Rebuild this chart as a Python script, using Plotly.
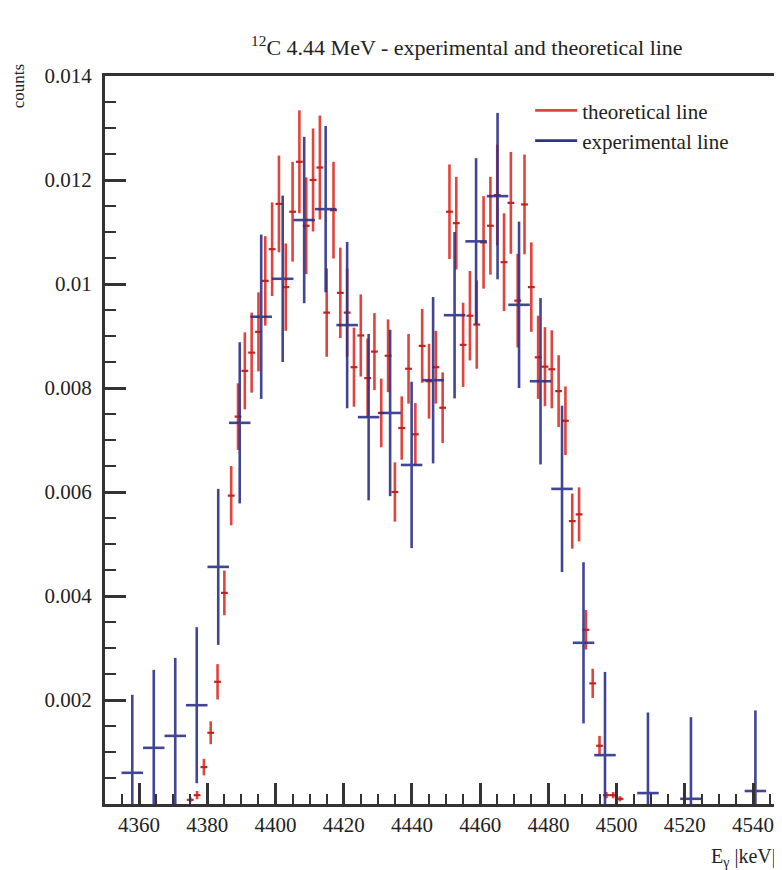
import plotly.graph_objects as go

# ---------------- data ----------------
theo_x = [4375, 4377, 4379, 4381, 4383, 4385, 4387, 4389, 4391, 4393, 4395, 4397, 4399,
          4401, 4403, 4405, 4407, 4409, 4411, 4413, 4415, 4417, 4419, 4421, 4423, 4425,
          4427, 4429, 4431, 4433, 4435, 4437, 4439, 4441, 4443, 4445, 4447, 4449, 4451,
          4453, 4455, 4457, 4459, 4461, 4463, 4465, 4467, 4469, 4471, 4473, 4475, 4477,
          4479, 4481, 4483, 4485, 4487, 4489, 4491, 4493, 4495, 4497, 4499, 4501]
theo_y = [0.00008, 0.00017, 0.00071, 0.00137, 0.00235, 0.00406, 0.00593, 0.00745, 0.00833,
          0.00868, 0.00908, 0.01006, 0.01067, 0.01154, 0.00994, 0.01139, 0.01235, 0.01112,
          0.01200, 0.01224, 0.00945, 0.01142, 0.00983, 0.00945, 0.00840, 0.00901, 0.00819,
          0.00870, 0.00752, 0.00862, 0.00600, 0.00723, 0.00837, 0.00711, 0.00881, 0.00813,
          0.00840, 0.00762, 0.01139, 0.01117, 0.00883, 0.00939, 0.00922, 0.01080, 0.01112,
          0.01171, 0.01042, 0.01156, 0.00968, 0.01153, 0.00994, 0.00859, 0.00841, 0.00836,
          0.00794, 0.00737, 0.00544, 0.00557, 0.00335, 0.00232, 0.00112, 0.00017, 0.00017,
          0.00010]
theo_err = [0.00005, 0.00008, 0.00016, 0.00022, 0.00034, 0.00043, 0.00057, 0.00064, 0.00074,
            0.00077, 0.00076, 0.00086, 0.00090, 0.00093, 0.00084, 0.00096, 0.00099, 0.00093,
            0.00099, 0.00100, 0.00085, 0.00093, 0.00087, 0.00085, 0.00076, 0.00079, 0.00076,
            0.00074, 0.00066, 0.00070, 0.00057, 0.00061, 0.00067, 0.00060, 0.00071, 0.00072,
            0.00070, 0.00068, 0.00091, 0.00089, 0.00081, 0.00086, 0.00085, 0.00089, 0.00094,
            0.00097, 0.00094, 0.00098, 0.00090, 0.00096, 0.00086, 0.00080, 0.00076, 0.00075,
            0.00069, 0.00066, 0.00053, 0.00052, 0.00038, 0.00028, 0.00019, 0.00006, 0.00006,
            0.00005]
theo_halfbin = [1.0] * len(theo_x)

exp_x = [4358.0, 4364.3, 4370.6, 4376.9, 4383.2, 4389.5, 4395.8, 4402.1, 4408.4, 4414.7,
         4421.0, 4427.3, 4433.6, 4439.9, 4446.2, 4452.5, 4458.8, 4465.1, 4471.4, 4477.7,
         4484.0, 4490.3, 4496.6, 4509.2, 4521.8, 4540.7]
exp_y = [0.00060, 0.00108, 0.00131, 0.00190, 0.00456, 0.00733, 0.00937, 0.01010, 0.01123,
         0.01144, 0.00921, 0.00744, 0.00752, 0.00652, 0.00815, 0.00940, 0.01082, 0.01169,
         0.00960, 0.00813, 0.00606, 0.00310, 0.00094, 0.00021, 0.00010, 0.00025]
exp_err = [0.00150, 0.00150, 0.00150, 0.00150, 0.00150, 0.00155, 0.00158, 0.00160, 0.00160,
           0.00160, 0.00160, 0.00160, 0.00160, 0.00160, 0.00160, 0.00160, 0.00160, 0.00160,
           0.00160, 0.00160, 0.00160, 0.00155, 0.00160, 0.00155, 0.00157, 0.00155]
exp_halfbin = [3.15] * len(exp_x)

y_tickvals = [0.002, 0.004, 0.006, 0.008, 0.010, 0.012, 0.014]
y_ticktext = ["0.002", "0.004", "0.006", "0.008", "0.01", "0.012", "0.014"]
x_tickvals = [4360, 4380, 4400, 4420, 4440, 4460, 4480, 4500, 4520, 4540]

RED = "#e2433c"
RED_DARK = "#c2231f"
BLUE = "#2c3388"
AXIS = "#333333"
FONT = "Liberation Serif"

fig = go.Figure()

fig.add_trace(go.Scatter(
    x=theo_x, y=theo_y, mode="markers", showlegend=False,
    marker=dict(size=1, color=RED_DARK, opacity=0),
    error_y=dict(type="data", array=theo_err, visible=True, width=0, thickness=2.6, color=RED),
    error_x=dict(type="data", array=theo_halfbin, visible=True, width=0, thickness=2.2, color=RED_DARK),
))

fig.add_trace(go.Scatter(
    x=exp_x, y=exp_y, mode="markers", showlegend=False, opacity=0.9,
    marker=dict(size=1, color=BLUE, opacity=0),
    error_y=dict(type="data", array=exp_err, visible=True, width=0, thickness=2.6, color=BLUE),
    error_x=dict(type="data", array=exp_halfbin, visible=True, width=0, thickness=2.6, color=BLUE),
))

# legend entries (line samples)
fig.add_trace(go.Scatter(x=[None], y=[None], mode="lines", name="theoretical line",
                         line=dict(color=RED, width=2.6)))
fig.add_trace(go.Scatter(x=[None], y=[None], mode="lines", name="experimental line",
                         line=dict(color=BLUE, width=2.6)))

fig.update_layout(
    width=774, height=862,
    margin=dict(l=97, r=0, t=68, b=66),
    paper_bgcolor="white", plot_bgcolor="white",
    font=dict(family=FONT, color="#222222", size=21),
    legend=dict(x=0.628, y=0.9805, xanchor="left", yanchor="top",
                bgcolor="rgba(0,0,0,0)", font=dict(family=FONT, size=21, color="#222222"),
                tracegroupgap=0, itemwidth=42),
    xaxis=dict(
        range=[4350, 4548.5], showgrid=False, zeroline=False,
        showline=True, linecolor=AXIS, linewidth=3, mirror=True,
        tickmode="array", tickvals=x_tickvals,
        ticks="inside", ticklen=21, tickwidth=2.5, tickcolor=AXIS,
        ticklabelstandoff=0,
        tickfont=dict(family=FONT, size=21, color="#222222"),
        minor=dict(tickmode="linear", tick0=4350, dtick=5, ticks="inside",
                   ticklen=10, tickwidth=2.2, tickcolor=AXIS, showgrid=False),
    ),
    yaxis=dict(
        range=[0, 0.014], showgrid=False, zeroline=False,
        showline=True, linecolor=AXIS, linewidth=3, mirror=False,
        tickmode="array", tickvals=y_tickvals, ticktext=y_ticktext,
        ticks="inside", ticklen=21, tickwidth=2.5, tickcolor=AXIS,
        ticklabelstandoff=6,
        tickfont=dict(family=FONT, size=21, color="#222222"),
        minor=dict(tickmode="linear", tick0=0, dtick=0.0005, ticks="inside",
                   ticklen=11, tickwidth=2.2, tickcolor=AXIS, showgrid=False),
    ),
    annotations=[
        dict(text="<sup>12</sup>C 4.44 MeV - experimental and theoretical line",
             xref="paper", yref="paper", x=0.535, y=1.0412, xanchor="center", yanchor="middle",
             showarrow=False, font=dict(family=FONT, size=22, color="#222222")),
        dict(text="counts", textangle=-90,
             xref="paper", yref="paper", x=-0.1285, y=1.019, xanchor="center", yanchor="top",
             showarrow=False, font=dict(family=FONT, size=17, color="#222222")),
        dict(text="E<sub>γ</sub> |keV|",
             xref="paper", yref="paper", x=0.994, y=-0.074, xanchor="right", yanchor="middle",
             showarrow=False, font=dict(family=FONT, size=20, color="#222222")),
    ],
)

fig.write_html("out.html")
